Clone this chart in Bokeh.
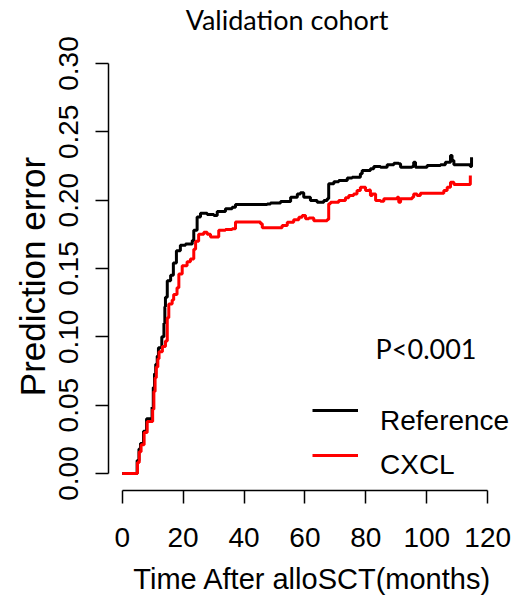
from bokeh.plotting import figure
from bokeh.layouts import column
from bokeh.models import Range1d, FixedTicker, PrintfTickFormatter, Legend, LegendItem, Label
from bokeh.embed import file_html
from bokeh.resources import INLINE

# ---- data ----
ref_t = [0, 4.9, 5.5, 6.0, 7.0, 8.0, 9.8, 10.2, 10.6, 11.0, 11.5, 11.9, 13.0, 13.7, 14.0, 14.2,
         14.8, 15.9, 16.8, 17.8, 19.1, 20.8, 23.0, 23.5, 24.6, 25.7, 27.9, 30.1, 31.2, 33.9, 36.1,
         37.2, 47.6, 48.7, 52.0, 55.3, 57.5, 58.5, 59.6, 61.8, 64.0, 66.2, 67.3, 67.8, 69.5, 71.1,
         73.9, 75.5, 78.2, 78.8, 81.5, 82.6, 84.8, 87.0, 89.2, 90.8, 91.4, 95.2, 95.7, 96.3, 100.1,
         104.5, 106.1, 107.8, 108.3, 108.9, 114.3, 114.7]
ref_v = [0.0, 0.0095, 0.018, 0.022, 0.031, 0.040, 0.0485, 0.063, 0.073, 0.080, 0.086, 0.092, 0.100,
         0.110, 0.122, 0.129, 0.141, 0.145, 0.154, 0.163, 0.167, 0.168, 0.1705, 0.178, 0.1876, 0.1905,
         0.1895, 0.1888, 0.1917, 0.1937, 0.1948, 0.1968, 0.1972, 0.198, 0.199, 0.2022, 0.2046, 0.2054,
         0.2022, 0.1997, 0.1985, 0.1997, 0.201, 0.212, 0.2135, 0.2144, 0.2163, 0.2168, 0.2193, 0.2217,
         0.223, 0.2246, 0.224, 0.226, 0.227, 0.2266, 0.224, 0.2246, 0.2278, 0.224, 0.2254, 0.226,
         0.2278, 0.2327, 0.229, 0.226, 0.2246, 0.2314]

cxcl_t = [0, 5.0, 5.6, 6.2, 7.2, 8.2, 10.0, 10.4, 10.8, 11.2, 11.7, 12.1, 13.2, 14.2, 14.8, 15.3,
          16.4, 16.9, 18.0, 18.6, 19.7, 21.3, 22.4, 23.5, 24.1, 25.1, 26.8, 27.9, 29.0, 31.7, 33.9,
          36.1, 37.2, 45.4, 46.0, 52.5, 54.2, 56.3, 58.0, 59.1, 60.2, 61.3, 62.9, 67.3, 67.8, 68.4,
          71.1, 73.3, 74.4, 76.0, 77.1, 78.2, 79.9, 81.0, 81.5, 82.1, 83.2, 84.8, 85.9, 90.3, 90.8,
          91.4, 95.2, 95.7, 96.8, 97.9, 105.6, 106.7, 107.8, 108.9, 114.3]
cxcl_v = [0.0, 0.008, 0.016, 0.021, 0.030, 0.038, 0.047, 0.060, 0.070, 0.078, 0.084, 0.089, 0.093,
          0.097, 0.114, 0.124, 0.127, 0.131, 0.136, 0.146, 0.152, 0.155, 0.157, 0.164, 0.170, 0.175,
          0.1765, 0.175, 0.173, 0.178, 0.1785, 0.179, 0.184, 0.1827, 0.1798, 0.1815, 0.1839, 0.1856,
          0.1875, 0.1888, 0.1864, 0.187, 0.185, 0.1858, 0.1973, 0.1985, 0.1997, 0.2017, 0.2034,
          0.2046, 0.207, 0.2095, 0.207, 0.2075, 0.2034, 0.2046, 0.1997, 0.1992, 0.201, 0.2022,
          0.1985, 0.201, 0.2022, 0.2046, 0.2034, 0.205, 0.207, 0.2095, 0.2132, 0.2115, 0.218]

x_ticks = [0, 20, 40, 60, 80, 100, 120]
y_ticks = [0.0, 0.05, 0.10, 0.15, 0.20, 0.25, 0.30]
series_names = ["Reference", "CXCL"]
series_colors = ["black", "#ff0000"]
title_text = "Validation cohort"
p_text = "P<0.001"
x_label = "Time After alloSCT(months)"
y_label = "Prediction error"

W = 518
TITLE_H = 35
MAIN_H = 566
FRAME_TOP_PAGE = 62
X_START, X_END = -4.498, 129.46

# ---- title strip (frame aligned with the chart's frame by the column layout) ----
t = figure(width=W, height=TITLE_H, output_backend="svg", toolbar_location=None,
           x_range=Range1d(X_START, X_END), y_range=Range1d(0, TITLE_H),
           x_axis_location=None, y_axis_location=None,
           min_border_left=108, min_border_right=2, min_border_top=0, min_border_bottom=0)
t.title.visible = False
t.outline_line_color = None
t.xgrid.visible = False
t.ygrid.visible = False
t.add_layout(Label(x=54.1, y=TITLE_H - 18.5, text=title_text, text_align="center",
                   text_baseline="middle", text_font="Lato", text_font_size="27px",
                   text_color="black"))

# ---- main chart ----
p = figure(width=W, height=MAIN_H, output_backend="svg", toolbar_location=None,
           x_range=Range1d(X_START, X_END),
           y_range=Range1d(-0.01244, (473 - FRAME_TOP_PAGE) / 1366.67),
           min_border_left=108, min_border_right=2,
           min_border_top=FRAME_TOP_PAGE - TITLE_H,
           min_border_bottom=MAIN_H - (490 - TITLE_H))
p.title.visible = False
p.xgrid.visible = False
p.ygrid.visible = False
p.outline_line_color = None
p.background_fill_color = "white"
p.border_fill_color = "white"

AX_FONT = "Liberation Sans"
for ax in (p.xaxis[0], p.yaxis[0]):
    ax.axis_line_color = "black"
    ax.axis_line_width = 1.5
    ax.major_tick_line_color = "black"
    ax.major_tick_line_width = 1.5
    ax.major_tick_out = 13
    ax.major_tick_in = 0
    ax.minor_tick_out = 0
    ax.minor_tick_in = 0
    ax.major_label_text_font = AX_FONT
    ax.major_label_text_font_size = "28px"
    ax.major_label_text_color = "black"
    ax.axis_label_text_font = AX_FONT
    ax.axis_label_text_font_style = "normal"
    ax.axis_label_text_color = "black"

xa = p.xaxis[0]
xa.ticker = FixedTicker(ticks=x_ticks)
xa.bounds = (x_ticks[0], x_ticks[-1])
xa.major_label_standoff = 24
xa.axis_label = x_label
xa.axis_label_text_font_size = "29px"
xa.axis_label_standoff = 13

ya = p.yaxis[0]
ya.ticker = FixedTicker(ticks=y_ticks)
ya.bounds = (y_ticks[0], y_ticks[-1])
ya.formatter = PrintfTickFormatter(format="%.2f")
ya.major_label_orientation = "vertical"
ya.major_label_standoff = 17
ya.axis_label = y_label
ya.axis_label_text_font_size = "35px"
ya.axis_label_standoff = 5

r1 = p.step(ref_t, ref_v, mode="after", line_color=series_colors[0], line_width=3)
r2 = p.step(cxcl_t, cxcl_v, mode="after", line_color=series_colors[1], line_width=3)

# legend sample lines (sit a little above their texts, as in the reference)
legend_lines = Legend(items=[LegendItem(label=" ", renderers=[r1]),
                             LegendItem(label=" ", renderers=[r2])],
                      location=(204, 30), orientation="vertical",
                      glyph_width=46, glyph_height=10, label_height=10, label_standoff=0,
                      spacing=35, padding=0, margin=0, border_line_color=None,
                      background_fill_alpha=0, label_text_font_size="1px")
p.add_layout(legend_lines)

# legend texts (attached to invisible proxies)
proxy1 = p.line(x=[], y=[], line_color=series_colors[0], line_alpha=0)
proxy2 = p.line(x=[], y=[], line_color=series_colors[1], line_alpha=0)
legend_text = Legend(items=[LegendItem(label=series_names[0], renderers=[proxy1]),
                            LegendItem(label=series_names[1], renderers=[proxy2])],
                     location=(204, 9), orientation="vertical",
                     glyph_width=46, glyph_height=10, label_height=30, label_standoff=22,
                     spacing=12, padding=0, margin=0, border_line_color=None,
                     background_fill_alpha=0, label_text_font=AX_FONT,
                     label_text_font_size="28px", label_text_color="black")
p.add_layout(legend_text)

p.add_layout(Label(x=83.2, y=0.0915, text=p_text, text_align="left",
                   text_baseline="middle", text_font="Lato", text_font_size="27px",
                   text_color="black"))

layout = column(t, p, spacing=0)
open("out.html", "w").write(file_html(layout, INLINE))
